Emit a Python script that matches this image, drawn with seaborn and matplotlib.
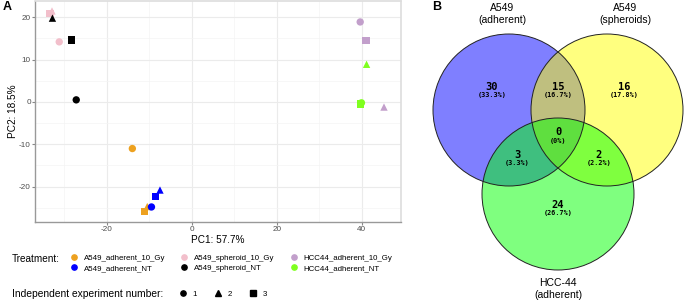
import numpy as np
import pandas as pd
import matplotlib.pyplot as plt
import seaborn as sns
from matplotlib.patches import Circle
from matplotlib.lines import Line2D

# PCA scores
pc1 = [-14.0, -11.1, -10.5,
       -9.5, -8.5, -7.5,
       -31.2, -32.9, -33.4,
       -27.2, -32.8, -28.3,
       39.6, 45.2, 41.0,
       39.9, 41.1, 39.6]
pc2 = [-11.0, -25.8, -24.7,
       -24.8, -22.4, -20.8,
       14.2, 21.5, 20.9,
       0.5, 19.8, 14.6,
       18.9, -1.2, 14.5,
       -0.2, 8.9, -0.5]
treatment = (["A549_adherent_10_Gy"] * 3 + ["A549_adherent_NT"] * 3
             + ["A549_spheroid_10_Gy"] * 3 + ["A549_spheroid_NT"] * 3
             + ["HCC44_adherent_10_Gy"] * 3 + ["HCC44_adherent_NT"] * 3)
experiment = [1, 3, 2] * 2 + [1, 2, 3] * 4

treat_order = ["A549_adherent_10_Gy", "A549_adherent_NT", "A549_spheroid_10_Gy",
               "A549_spheroid_NT", "HCC44_adherent_10_Gy", "HCC44_adherent_NT"]
treat_colors = ["#EDA11F", "#0000FF", "#F2BFCB", "#000000", "#C29FCB", "#7FFF1F"]

# Venn counts
venn_sets = ["A549\n(adherent)", "A549\n(spheroids)", "HCC-44\n(adherent)"]
venn_regions = ["A", "B", "C", "AB", "AC", "BC", "ABC"]
venn_counts = [30, 16, 24, 15, 3, 2, 0]

df = pd.DataFrame({"PC1": pc1, "PC2": pc2, "Treatment": treatment, "Experiment": experiment})
palette = dict(zip(treat_order, treat_colors))
markers = {1: "o", 2: "^", 3: "s"}

plt.rcParams["font.family"] = ["Liberation Sans", "DejaVu Sans"]
plt.rcParams["axes.unicode_minus"] = False
fig = plt.figure(figsize=(6.85, 3.02), dpi=100)
W, H = 685, 302

# ---------------- Panel A: PCA ----------------
ax = fig.add_axes([35 / W, 1 - 222 / H, (401 - 35) / W, (222 - 1) / H])
sns.scatterplot(data=df, x="PC1", y="PC2", hue="Treatment", style="Experiment",
                palette=palette, markers=markers, hue_order=treat_order,
                s=28, linewidth=0, ax=ax, legend=False, zorder=3)
ax.set_xlim(-36.9, 49.2)
ax.set_ylim(-28.35, 23.85)
ax.set_xticks([-20, 0, 20, 40])
ax.set_yticks([-20, -10, 0, 10, 20])
ax.set_xticks([-30, -10, 10, 30], minor=True)
ax.set_yticks([-25, -15, -5, 5, 15], minor=True)
ax.grid(True, which="major", color="#EBEBEB", linewidth=0.8)
ax.grid(True, which="minor", color="#F4F4F4", linewidth=0.5)
ax.set_axisbelow(True)
ax.tick_params(which="major", length=2, width=0.8, color="#888888",
               labelsize=5.9, labelcolor="#4D4D4D", pad=1)
ax.tick_params(which="minor", length=0)
for side in ["left", "bottom"]:
    ax.spines[side].set_color("#999999")
    ax.spines[side].set_linewidth(1.0)
for side in ["top", "right"]:
    ax.spines[side].set_color("#DDDDDD")
    ax.spines[side].set_linewidth(1.2)
ax.set_xlabel("PC1: 57.7%", fontsize=7.2, labelpad=1)
ax.set_ylabel("PC2: 18.5%", fontsize=7.2, labelpad=0.5)

fig.text(3 / W, 1 - 7 / H, "A", fontsize=9, fontweight="bold", va="center")

# Legends
fig.text(12 / W, 1 - 259 / H, "Treatment:", fontsize=7.2, va="center")
treat_handles = [Line2D([], [], marker="o", linestyle="", color=c, markersize=3.8)
                 for c in treat_colors]
fig.legend(treat_handles, treat_order, loc="upper left",
           bbox_to_anchor=(70 / W, 1 - 254 / H), ncol=3, frameon=False,
           fontsize=5.7, handlelength=1.0, handletextpad=0.75,
           columnspacing=1.9, labelspacing=0.35, borderpad=0, borderaxespad=0)

fig.text(12 / W, 1 - 294 / H, "Independent experiment number:", fontsize=7.4, va="center")
exp_handles = [Line2D([], [], marker=markers[k], linestyle="", color="black", markersize=3.8)
               for k in [1, 2, 3]]
fig.legend(exp_handles, ["1", "2", "3"], loc="center left",
           bbox_to_anchor=(179 / W, 1 - 294 / H), ncol=3, frameon=False,
           fontsize=5.7, handlelength=1.0, handletextpad=0.75,
           columnspacing=2.1, borderpad=0, borderaxespad=0)

# ---------------- Panel B: Venn ----------------
axb = fig.add_axes([430 / W, 0, 255 / W, 1])
axb.set_xlim(430, 685)
axb.set_ylim(302, 0)
axb.axis("off")
r = 76
centers = [(509, 110), (607, 110), (558, 194)]
for (cx, cy), col in zip(centers, ["#0000FF", "#FFFF00", "#00FF00"]):
    axb.add_patch(Circle((cx, cy), r, facecolor=col, alpha=0.5, edgecolor="none"))
for (cx, cy) in centers:
    axb.add_patch(Circle((cx, cy), r, facecolor="none", edgecolor="#222222", linewidth=0.7))

total = sum(venn_counts)
pos = {"A": (492, 87), "B": (624, 87), "C": (558, 205), "AB": (558, 87),
       "AC": (517, 155), "BC": (599, 155), "ABC": (558, 132)}
for reg, n in zip(venn_regions, venn_counts):
    x, y = pos[reg]
    pct = 100 * n / total
    pct_txt = f"({pct:.0f}%)" if pct == 0 else f"({pct:.1f}%)"
    axb.text(x, y, str(n), family="DejaVu Sans Mono", fontweight="bold",
             fontsize=7.5, ha="center", va="center")
    axb.text(x, y + 8.5, pct_txt, family="DejaVu Sans Mono", fontweight="bold",
             fontsize=4.9, ha="center", va="center")

label_pos = [(502, 14), (625, 14), (558, 289)]
for (x, y), lab in zip(label_pos, venn_sets):
    axb.text(x, y, lab, fontsize=7.5, ha="center", va="center", linespacing=1.2)
fig.text(432 / W, 1 - 7 / H, "B", fontsize=9, fontweight="bold", va="center")

fig.savefig("out.png", dpi=100)
